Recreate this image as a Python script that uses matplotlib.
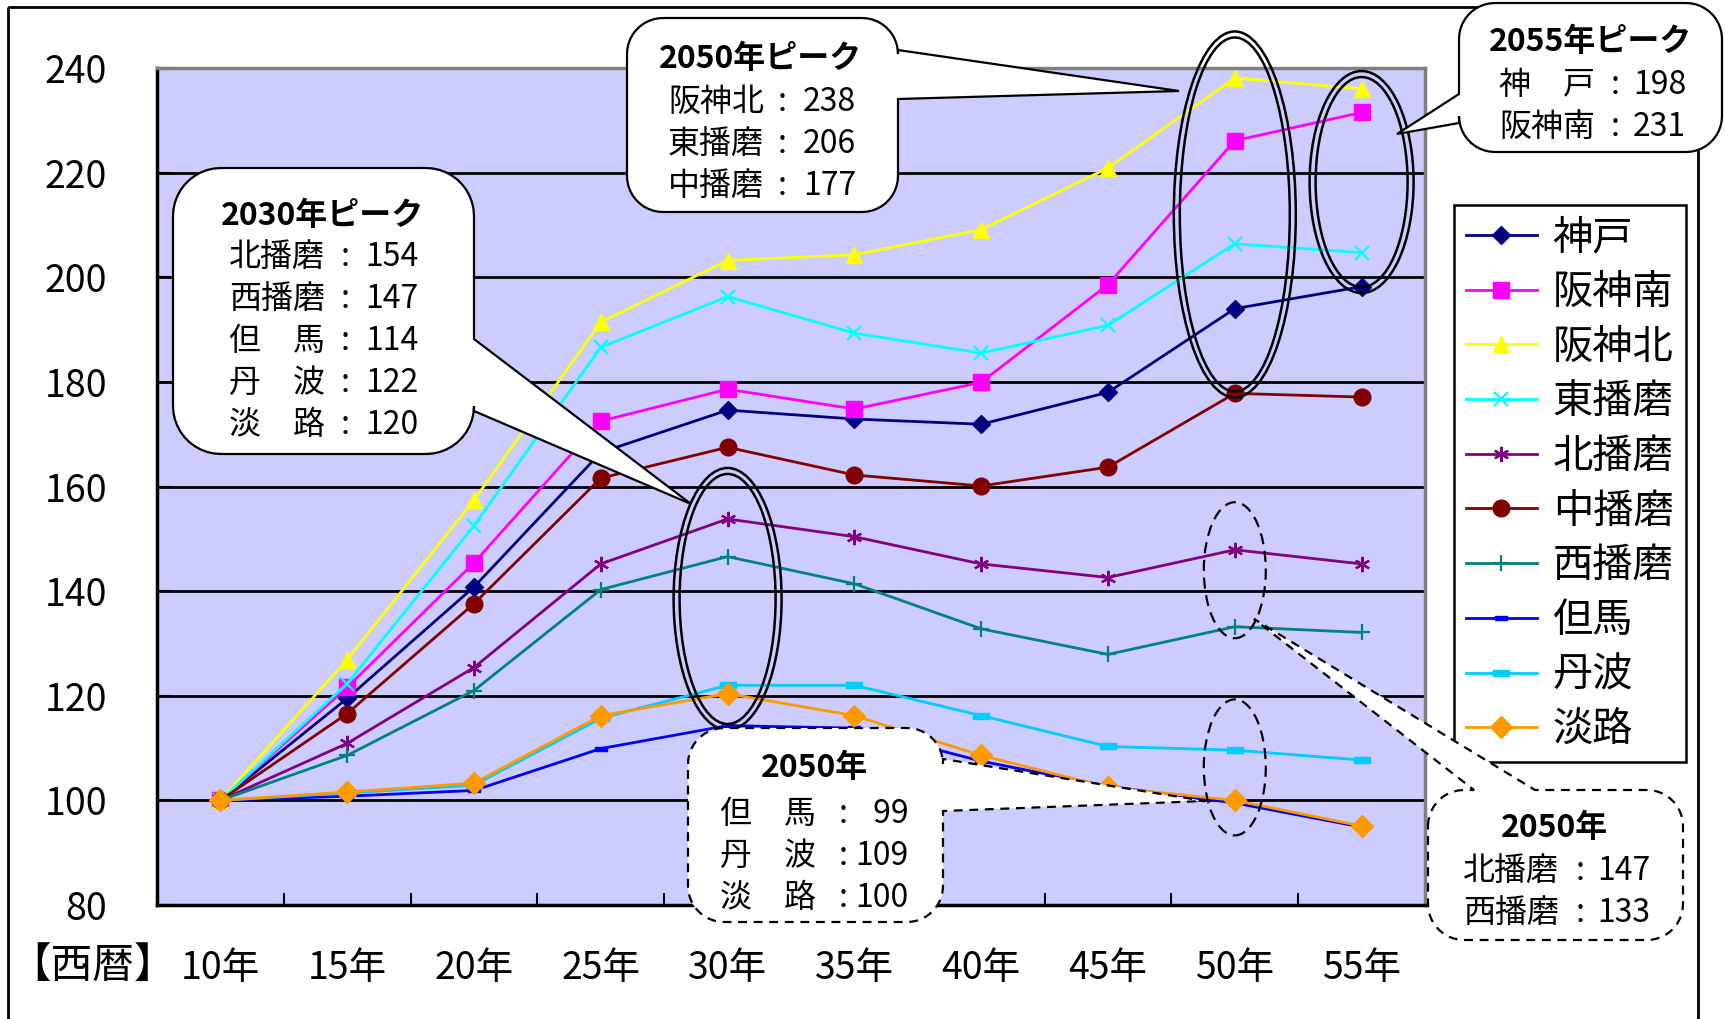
import numpy as np
import matplotlib
matplotlib.use('Agg')
import matplotlib.pyplot as plt
from matplotlib.patches import Ellipse, Polygon, Rectangle
from matplotlib.path import Path

plt.rcParams['font.family'] = ['Noto Sans CJK JP', 'DejaVu Sans']

########## data ##########
years = ['10年', '15年', '20年', '25年', '30年', '35年', '40年', '45年', '50年', '55年']

kobe = [100, 119.5, 140.8, 166.5, 174.6, 172.9, 171.9, 178.0, 194.0, 198.2]
hanshin_minami = [100, 121.6, 145.4, 172.5, 178.6, 174.8, 179.9, 198.6, 226.1, 231.5]
hanshin_kita = [100, 126.9, 157.4, 191.4, 203.2, 204.3, 209.1, 220.9, 238.1, 236.0]
higashi_harima = [100, 122.3, 152.5, 186.6, 196.3, 189.3, 185.5, 190.8, 206.4, 204.7]
kita_harima = [100, 110.9, 125.4, 145.2, 153.8, 150.4, 145.2, 142.6, 147.9, 145.2]
naka_harima = [100, 116.6, 137.6, 161.6, 167.5, 162.2, 160.1, 163.7, 177.8, 177.1]
nishi_harima = [100, 108.6, 121.0, 140.3, 146.6, 141.4, 132.8, 127.9, 133.2, 132.1]
tajima = [100, 100.8, 101.9, 109.9, 114.3, 113.8, 107.5, 102.7, 99.5, 94.9]
tamba = [100, 101.4, 102.9, 115.7, 122.0, 122.0, 116.2, 110.3, 109.6, 107.7]
awaji = [100, 101.6, 103.3, 116.2, 120.4, 116.2, 108.6, 102.5, 100.0, 95.1]

yticks = [80, 100, 120, 140, 160, 180, 200, 220, 240]

bar = Path([(-1, -0.4), (1, -0.4), (1, 0.4), (-1, 0.4), (-1, -0.4)])
asterisk = (6, 2, 0)

series = [
    ('神戸', kobe, '#000080', 'D', 9),
    ('阪神南', hanshin_minami, '#FF00FF', 's', 11),
    ('阪神北', hanshin_kita, '#FFFF00', '^', 12),
    ('東播磨', higashi_harima, '#00FFFF', 'x', 10),
    ('北播磨', kita_harima, '#800080', asterisk, 11),
    ('中播磨', naka_harima, '#800000', 'o', 12),
    ('西播磨', nishi_harima, '#008080', '+', 11),
    ('但馬', tajima, '#0000FF', bar, 8),
    ('丹波', tamba, '#00CCFF', bar, 12),
    ('淡路', awaji, '#FF9900', 'D', 11),
]

W, H = 1725, 1019
fig = plt.figure(figsize=(W / 100, H / 100), dpi=100)
fig.patch.set_facecolor('white')

L, T, R, B = 157, 68, 1425, 905
ax = fig.add_axes([L / W, 1 - B / H, (R - L) / W, (B - T) / H])
ax.set_facecolor('#CCCCFF')

x = np.arange(len(years))
handles = []
for name, vals, col, mk, ms in series:
    mew = 1.6 if mk in ('x', '+', asterisk) else 1
    h, = ax.plot(x, vals, color=col, lw=2, marker=mk, ms=ms, mew=mew,
                 mfc=col, mec=col, label=name, zorder=3)
    handles.append(h)

ax.set_xlim(-0.5, 9.5)
ax.set_ylim(80, 240)
ax.set_yticks(yticks)
ax.set_yticklabels([str(v) for v in yticks], fontsize=27)
ax.set_xticks(x)
ax.set_xticklabels(years, fontsize=27)
ax.set_xticks(np.arange(0.5, 9, 1), minor=True)
ax.tick_params(axis='x', which='major', length=0, pad=32)
ax.tick_params(axis='x', which='minor', direction='in', length=9, width=1.5)
ax.tick_params(axis='y', direction='in', length=10, width=1.5, pad=36)
for v in yticks[1:-1]:
    ax.axhline(v, color='black', lw=2, zorder=1)
ax.spines['left'].set_linewidth(2.5)
ax.spines['bottom'].set_linewidth(2.5)
ax.spines['top'].set_color('#808080')
ax.spines['right'].set_color('#808080')
ax.spines['top'].set_linewidth(2.5)
ax.spines['right'].set_linewidth(2.5)

# ellipses around highlighted points (data coords)
pxx = (R - L) / 10.0
pxy = (B - T) / 160.0


def dbl_ellipse(xc, yc, w, h):
    g = 6
    for k in (0, 1):
        ax.add_patch(Ellipse((xc, yc), (w - 2 * g * k) / pxx, (h - 2 * g * k) / pxy,
                             fill=False, ec='black', lw=1.8, zorder=6, clip_on=False))


dbl_ellipse(4, 138.5, 108, 262)
dbl_ellipse(8, 212.0, 122, 366)
dbl_ellipse(9, 218.2, 104, 222)
for yc in (144.0, 106.3):
    ax.add_patch(Ellipse((8, yc), 62 / pxx, 136 / pxy, fill=False, ec='black',
                         lw=1.6, ls=(0, (5, 3)), zorder=6, clip_on=False))

leg = fig.legend(handles=handles, loc='upper left',
                 bbox_to_anchor=(1454 / W, 1 - 205 / H), borderaxespad=0,
                 fontsize=29, frameon=True, fancybox=False, framealpha=1,
                 edgecolor='black', labelspacing=0.34, handlelength=1.75,
                 handletextpad=0.4, borderpad=0.3)
leg.get_frame().set_linewidth(1.8)

# overlay in pixel coords for frame and callouts
ov = fig.add_axes([0, 0, 1, 1], zorder=10)
ov.set_xlim(0, W)
ov.set_ylim(H, 0)
ov.axis('off')
ov.patch.set_alpha(0)

ov.add_patch(Rectangle((8, 7), 1690, 1100, fill=False, ec='black', lw=2, zorder=1))


def callout(x0, y0, x1, y1, r, side, b1, b2, tip, ls='-'):
    def arc(cx, cy, a0, a1):
        t = np.radians(np.linspace(a0, a1, 12))
        return list(zip(cx + r * np.cos(t), cy + r * np.sin(t)))
    pts = arc(x0 + r, y0 + r, 180, 270)
    if side == 'top':
        pts += [(b1, y0), tip, (b2, y0)]
    pts += arc(x1 - r, y0 + r, 270, 360)
    if side == 'right':
        pts += [(x1, b1), tip, (x1, b2)]
    pts += arc(x1 - r, y1 - r, 0, 90)
    if side == 'bottom':
        pts += [(b2, y1), tip, (b1, y1)]
    pts += arc(x0 + r, y1 - r, 90, 180)
    if side == 'left':
        pts += [(x0, b2), tip, (x0, b1)]
    ov.add_patch(Polygon(pts, closed=True, fc='white', ec='black',
                         lw=1.6, ls=ls, zorder=3))


def lines(rows, xn, xc, xv, y0, dy, fs=23):
    for i, (nm, val) in enumerate(rows):
        yy = y0 + i * dy
        ov.text(xn, yy, nm, fontsize=fs, ha='left', va='center', zorder=4)
        ov.text(xc, yy, ':', fontsize=fs, ha='center', va='center', zorder=4)
        ov.text(xv, yy, val, fontsize=fs, ha='right', va='center', zorder=4)


def title(xc, yc, s):
    ov.text(xc, yc, s, fontsize=23, fontweight='bold', ha='center', va='center', zorder=4)


# 2030 peak
callout(173, 168, 474, 454, 48, 'right', 339, 411, (691, 504))
title(322, 216, '2030年ピーク')
lines([('北播磨', '154'), ('西播磨', '147'), ('但　馬', '114'),
       ('丹　波', '122'), ('淡　路', '120')], 229, 345, 418, 257, 42)

# 2050 peak
callout(627, 18, 898, 212, 36, 'right', 50, 99, (1179, 91))
title(761, 59, '2050年ピーク')
lines([('阪神北', '238'), ('東播磨', '206'), ('中播磨', '177')],
      668, 782, 856, 102, 42)

# 2055 peak
callout(1459, 3, 1722, 152, 36, 'left', 94, 123, (1397, 134))
title(1591, 42, '2055年ピーク')
lines([('神　戸', '198'), ('阪神南', '231')], 1499, 1615, 1686, 85, 42)

# 2050 bottom (dashed)
callout(688, 728, 943, 922, 36, 'right', 759, 811, (1205, 801), ls=(0, (4, 3)))
title(814, 768, '2050年')
lines([('但　馬', ' 99'), ('丹　波', '109'), ('淡　路', '100')],
      720, 843, 909, 814, 42)

# 2050 right (dashed)
callout(1428, 790, 1683, 940, 36, 'top', 1474, 1535, (1254, 619), ls=(0, (4, 3)))
title(1554, 828, '2050年')
lines([('北播磨', '147'), ('西播磨', '133')], 1463, 1580, 1650, 871, 42)

fig.text(176 / W, 1 - 966 / H, '【西暦】', fontsize=30, ha='right', va='center')

fig.savefig('out.png', dpi=100)
